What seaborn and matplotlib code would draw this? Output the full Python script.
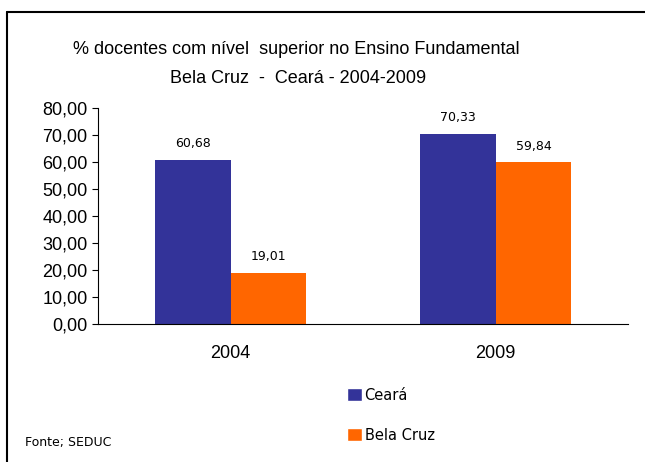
import pandas as pd
import seaborn as sns
import matplotlib.pyplot as plt
from matplotlib.lines import Line2D
from matplotlib.patches import Patch

# dados
anos = ["2004", "2009"]
series = ["Ceará", "Bela Cruz"]
ceara = [60.68, 70.33]
bela_cruz = [19.01, 59.84]
cores = {"Ceará": "#333399", "Bela Cruz": "#FF6600"}

df = pd.DataFrame({
    "ano": anos * 2,
    "serie": [series[0]] * len(anos) + [series[1]] * len(anos),
    "valor": ceara + bela_cruz,
})

sns.set_style("white")
plt.rcParams["font.family"] = ["Liberation Sans", "DejaVu Sans"]
plt.rcParams["text.color"] = "black"
plt.rcParams["xtick.color"] = "black"
plt.rcParams["ytick.color"] = "black"

fig = plt.figure(figsize=(6.45, 4.62), dpi=100)
ax = fig.add_axes([0.152, 0.2987, 0.822, 0.4675])

sns.barplot(data=df, x="ano", y="valor", hue="serie", hue_order=series,
            palette=cores, width=0.57, saturation=1, legend=False,
            linewidth=0, ax=ax)

# rótulos dos valores
for cont in ax.containers:
    ax.bar_label(cont, labels=[f"{v:.2f}".replace(".", ",") for v in cont.datavalues],
                 padding=7, fontsize=9, family="DejaVu Sans", color="black")

ax.set_ylim(0, 80)
ax.set_xlim(-0.5, 1.5)
ax.set_yticks(range(0, 81, 10))
ax.set_yticklabels([f"{v:.2f}".replace(".", ",") for v in range(0, 81, 10)], fontsize=13)
ax.set_xticks([-0.5, 0.5, 1.5], minor=True)
ax.tick_params(axis="x", which="major", length=0, labelsize=13, pad=15, labelcolor="black")
ax.tick_params(axis="x", which="minor", length=5, direction="out", color="black", width=0.8)
ax.tick_params(axis="y", length=4, direction="out", color="black", width=0.8, left=True,
               labelcolor="black")
ax.set_xlabel("")
ax.set_ylabel("")
sns.despine(ax=ax)
for s in ["left", "bottom"]:
    ax.spines[s].set_color("black")
    ax.spines[s].set_linewidth(0.8)

# título
fig.text(0.46, 0.892, "% docentes com nível  superior no Ensino Fundamental",
         ha="center", va="center", fontsize=13, color="black")
fig.text(0.462, 0.831, "Bela Cruz  -  Ceará - 2004-2009",
         ha="center", va="center", fontsize=13, color="black")

# legenda
handles = [Patch(facecolor=cores[s], label=s) for s in series]
leg = fig.legend(handles=handles, loc="upper left", bbox_to_anchor=(0.529, 0.173),
                 bbox_transform=fig.transFigure, frameon=False,
                 handlelength=1.0, handleheight=1.0, handletextpad=0.2,
                 labelspacing=1.7, borderaxespad=0,
                 prop={"family": "DejaVu Sans", "size": 10.5})
for t in leg.get_texts():
    t.set_color("black")

fig.text(0.038, 0.043, "Fonte; SEDUC", fontsize=9, family="DejaVu Sans",
         ha="left", va="center", color="black")

# moldura (topo e esquerda)
fig.add_artist(Line2D([0.011, 1], [0.974, 0.974], transform=fig.transFigure,
                      color="black", linewidth=1.5))
fig.add_artist(Line2D([0.011, 0.011], [0, 0.974], transform=fig.transFigure,
                      color="black", linewidth=1.5))

fig.savefig("out.png", dpi=100)
